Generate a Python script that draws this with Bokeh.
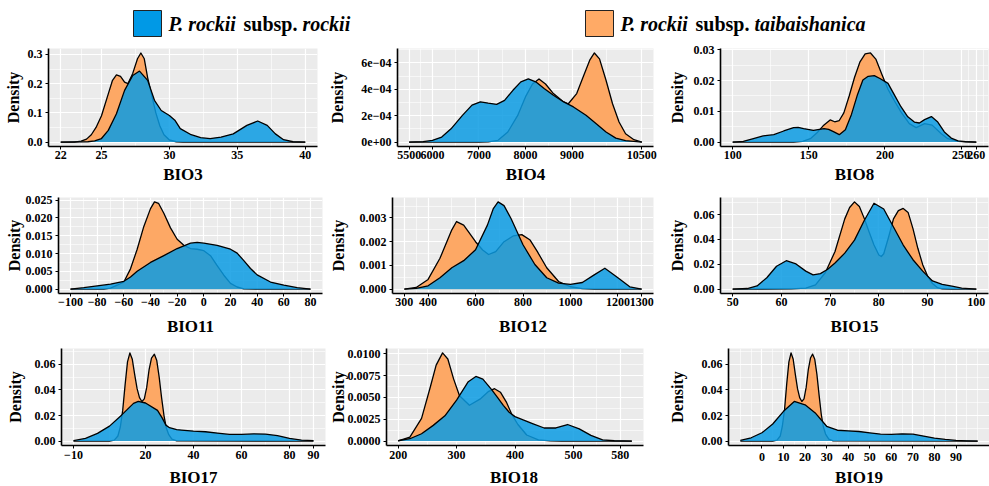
from bokeh.plotting import figure
from bokeh.layouts import column, row
from bokeh.models import Range1d, FixedTicker
from bokeh.core.properties import value
from bokeh.embed import file_html
from bokeh.resources import INLINE

# ------------------------------------------------------------------ data
GROUPS = ["P. rockii subsp. rockii", "P. rockii subsp. taibaishanica"]

BIO3_X_ROCKII = [22, 24, 24.5, 25, 25.5, 26.1, 26.7, 27.3, 27.8, 28.4, 28.9, 29.4, 30.0, 30.4, 30.8, 31.6, 32.3, 33.0, 33.8, 34.7, 35.7, 36.5, 37.2, 37.8, 38.4, 39.1, 40]
BIO3_Y_ROCKII = [0, 0.001, 0.004, 0.012, 0.04, 0.097, 0.177, 0.228, 0.243, 0.211, 0.143, 0.108, 0.091, 0.075, 0.046, 0.025, 0.015, 0.012, 0.017, 0.028, 0.057, 0.072, 0.057, 0.028, 0.008, 0.001, 0]
BIO3_X_TAIBAI = [22, 23.0, 23.5, 23.9, 24.25, 24.6, 25.0, 25.5, 25.8, 26.1, 26.4, 26.7, 26.95, 27.3, 27.65, 27.9, 28.15, 28.4, 28.7, 29.0, 29.3, 29.6, 30.0, 30.5, 31, 40]
BIO3_Y_TAIBAI = [0, 0.0, 0.003, 0.01, 0.025, 0.05, 0.09, 0.165, 0.21, 0.23, 0.225, 0.205, 0.2, 0.235, 0.285, 0.305, 0.285, 0.22, 0.16, 0.10, 0.055, 0.025, 0.007, 0.001, 0, 0]
BIO3_XTICKS = [22, 25, 30, 35, 40]
BIO3_XLABELS = ["22", "25", "30", "35", "40"]
BIO3_YTICKS = [0, 0.1, 0.2, 0.3]
BIO3_YLABELS = ["0.0", "0.1", "0.2", "0.3"]

BIO4_X_ROCKII = [5500, 5800, 6000, 6200, 6400, 6640, 6850, 7030, 7200, 7380, 7550, 7730, 7900, 8060, 8220, 8400, 8600, 8820, 9030, 9300, 9520, 9730, 9940, 10150, 10500]
BIO4_Y_ROCKII = [0, 0.03e-4, 0.13e-4, 0.38e-4, 1.0e-4, 2.0e-4, 2.8e-4, 3.05e-4, 2.95e-4, 2.86e-4, 3.16e-4, 3.92e-4, 4.56e-4, 4.78e-4, 4.56e-4, 4.05e-4, 3.54e-4, 3.04e-4, 2.66e-4, 2.03e-4, 1.39e-4, 0.76e-4, 0.30e-4, 0.10e-4, 0]
BIO4_X_TAIBAI = [5500, 7000, 7200, 7410, 7620, 7830, 8010, 8150, 8290, 8430, 8600, 8820, 8920, 9100, 9240, 9380, 9480, 9590, 9730, 9870, 10010, 10150, 10330, 10500]
BIO4_Y_TAIBAI = [0, 0, 0.02e-4, 0.13e-4, 0.76e-4, 2.0e-4, 3.5e-4, 4.4e-4, 4.78e-4, 4.4e-4, 3.67e-4, 3.04e-4, 2.9e-4, 3.67e-4, 4.94e-4, 6.2e-4, 6.75e-4, 6.3e-4, 4.68e-4, 2.9e-4, 1.52e-4, 0.63e-4, 0.18e-4, 0]
BIO4_XTICKS = [5500, 6000, 7000, 8000, 9000, 10500]
BIO4_XLABELS = ["5500", "6000", "7000", "8000", "9000", "10500"]
BIO4_YTICKS = [0, 2e-4, 4e-4, 6e-4]
BIO4_YLABELS = ["0e+00", "2e\u221204", "4e\u221204", "6e\u221204"]

BIO8_X_ROCKII = [100, 107, 113.6, 120, 127, 133.5, 140, 143, 146.6, 153, 160, 163, 166.5, 170, 174, 178, 182, 185.5, 189, 193, 197, 202, 206, 210.5, 215, 219.3, 222.6, 226, 230.5, 234.7, 239, 243.5, 248, 253, 260]
BIO8_Y_ROCKII = [0, 0.0002, 0.0011, 0.002, 0.0024, 0.0036, 0.0047, 0.0048, 0.0044, 0.0038, 0.0044, 0.0041, 0.0033, 0.0024, 0.004, 0.009, 0.0155, 0.0202, 0.0214, 0.0216, 0.0206, 0.0191, 0.0155, 0.0115, 0.0082, 0.0065, 0.0062, 0.0073, 0.0083, 0.0065, 0.0033, 0.0013, 0.0004, 0.0001, 0]
BIO8_X_TAIBAI = [100, 140, 146, 151, 155.4, 159.8, 164, 167, 170, 173, 176.5, 180, 183.5, 187, 190.5, 194, 198, 202, 206, 210.5, 216, 220.5, 226, 231, 237, 241.3, 248, 260]
BIO8_Y_TAIBAI = [0, 0, 0.0002, 0.0011, 0.003, 0.0055, 0.0072, 0.0066, 0.007, 0.0095, 0.015, 0.021, 0.026, 0.0287, 0.029, 0.027, 0.022, 0.0172, 0.0136, 0.0098, 0.006, 0.0047, 0.006, 0.0055, 0.0027, 0.0011, 0.0002, 0]
BIO8_XTICKS = [100, 150, 200, 250, 260]
BIO8_XLABELS = ["100", "150", "200", "250", "260"]
BIO8_YTICKS = [0, 0.01, 0.02, 0.03]
BIO8_YLABELS = ["0.00", "0.01", "0.02", "0.03"]

BIO11_X_ROCKII = [-100, -90, -80, -70, -60, -55, -50, -40, -30, -20, -10, -5, 0, 10, 20, 25, 30, 35, 40, 50, 60, 70, 80]
BIO11_Y_ROCKII = [0, 0.0004, 0.0009, 0.0014, 0.0022, 0.0034, 0.005, 0.0075, 0.0094, 0.0114, 0.0129, 0.0131, 0.0129, 0.0123, 0.0112, 0.0101, 0.008, 0.0058, 0.004, 0.002, 0.0011, 0.0004, 0]
BIO11_X_TAIBAI = [-100, -75, -70, -65, -60, -55, -50, -45, -40, -37, -34, -30, -25, -20, -15, -10, -5, 0, 5, 10, 15, 20, 25, 30, 40, 80]
BIO11_Y_TAIBAI = [0, 0, 0.0003, 0.0011, 0.002, 0.0057, 0.0112, 0.0176, 0.0226, 0.0245, 0.0241, 0.0213, 0.0172, 0.014, 0.0123, 0.0114, 0.0112, 0.0108, 0.0094, 0.0066, 0.0039, 0.0016, 0.0006, 0.0001, 0, 0]
BIO11_XTICKS = [-100, -80, -60, -40, -20, 0, 20, 40, 60, 80]
BIO11_XLABELS = ["\u2212100", "\u221280", "\u221260", "\u221240", "\u221220", "0", "20", "40", "60", "80"]
BIO11_YTICKS = [0, 0.005, 0.010, 0.015, 0.020, 0.025]
BIO11_YLABELS = ["0.000", "0.005", "0.010", "0.015", "0.020", "0.025"]

BIO12_X_ROCKII = [300, 350, 400, 450, 500, 550, 600, 650, 675, 695, 720, 750, 800, 850, 900, 950, 1000, 1050, 1100, 1145, 1200, 1250, 1300]
BIO12_Y_ROCKII = [0, 0.00003, 0.00014, 0.00048, 0.0009, 0.0012, 0.00166, 0.0027, 0.0034, 0.00368, 0.00352, 0.00297, 0.00187, 0.00104, 0.00048, 0.00025, 0.0002, 0.00028, 0.0006, 0.00088, 0.00048, 0.0001, 0]
BIO12_X_TAIBAI = [300, 350, 400, 450, 500, 520, 550, 600, 630, 655, 685, 720, 760, 795, 830, 860, 900, 950, 1000, 1050, 1100, 1300]
BIO12_Y_TAIBAI = [0, 0.00007, 0.00041, 0.0013, 0.0025, 0.00285, 0.0027, 0.002, 0.00165, 0.00146, 0.00158, 0.002, 0.00225, 0.0023, 0.00207, 0.00159, 0.0009, 0.00032, 0.0001, 0.00002, 0, 0]
BIO12_XTICKS = [300, 400, 600, 800, 1000, 1200, 1300]
BIO12_XLABELS = ["300", "400", "600", "800", "1000", "1200", "1300"]
BIO12_YTICKS = [0, 0.001, 0.002, 0.003]
BIO12_YLABELS = ["0.000", "0.001", "0.002", "0.003"]

BIO15_X_ROCKII = [50, 53, 55, 57, 59, 61, 63, 65, 66.5, 68, 69.5, 71, 73, 75, 77, 79, 81, 83, 85, 87, 89, 91, 93, 95, 97, 100]
BIO15_Y_ROCKII = [0, 0.0005, 0.0026, 0.0092, 0.0184, 0.0229, 0.0203, 0.0145, 0.0115, 0.0125, 0.016, 0.021, 0.029, 0.0395, 0.0553, 0.0692, 0.0645, 0.05, 0.0355, 0.0237, 0.0145, 0.0066, 0.0039, 0.0024, 0.0008, 0]
BIO15_X_TAIBAI = [50, 62, 65, 67, 69, 71, 73, 74, 75, 76, 77, 78, 79, 80, 80.5, 81, 82, 83, 84, 85, 86, 87, 88, 89, 90, 91, 92, 93, 95, 100]
BIO15_Y_TAIBAI = [0, 0.0002, 0.0008, 0.0034, 0.0132, 0.0303, 0.0566, 0.0658, 0.0703, 0.0666, 0.057, 0.046, 0.0355, 0.0275, 0.0263, 0.0285, 0.042, 0.0566, 0.0632, 0.065, 0.0618, 0.0487, 0.0329, 0.0197, 0.0105, 0.0045, 0.0013, 0.0003, 0, 0]
BIO15_XTICKS = [50, 60, 70, 80, 90, 100]
BIO15_XLABELS = ["50", "60", "70", "80", "90", "100"]
BIO15_YTICKS = [0, 0.02, 0.04, 0.06]
BIO15_YLABELS = ["0.00", "0.02", "0.04", "0.06"]

BIO17_X_ROCKII = [-10, -5, 0, 5, 10, 15, 17, 20, 25, 27, 28.5, 30, 33, 35, 40, 45, 50, 55, 60, 65, 70, 75, 80, 85, 90]
BIO17_Y_ROCKII = [0.0003, 0.0021, 0.006, 0.0117, 0.0203, 0.0295, 0.031, 0.0298, 0.024, 0.018, 0.0125, 0.0105, 0.009, 0.0086, 0.0078, 0.0073, 0.0063, 0.0052, 0.0052, 0.0057, 0.0055, 0.0042, 0.0021, 0.0008, 0.0003]
BIO17_X_TAIBAI = [-10, 5, 7, 8.5, 9.5, 10.5, 11.5, 12.5, 13.5, 14.5, 15.5, 16.5, 17.5, 18.5, 19.5, 20.5, 21.5, 22.5, 23.7, 24.7, 25.7, 26.7, 27.7, 28.7, 29.7, 31, 33, 90]
BIO17_Y_TAIBAI = [0, 0, 0.0008, 0.004, 0.011, 0.024, 0.044, 0.062, 0.069, 0.064, 0.052, 0.041, 0.034, 0.031, 0.033, 0.042, 0.056, 0.065, 0.068, 0.063, 0.05, 0.034, 0.02, 0.01, 0.005, 0.0015, 0.0002, 0]
BIO17_XTICKS = [-10, 20, 40, 60, 80, 90]
BIO17_XLABELS = ["\u221210", "20", "40", "60", "80", "90"]
BIO17_YTICKS = [0, 0.02, 0.04, 0.06]
BIO17_YLABELS = ["0.00", "0.02", "0.04", "0.06"]

BIO18_X_ROCKII = [200, 220, 240, 260, 280, 300, 320, 333, 345, 360, 370, 380, 390, 400, 415, 430, 450, 470, 490, 510, 530, 550, 570, 600]
BIO18_Y_ROCKII = [0.00004, 0.00027, 0.00084, 0.0018, 0.0029, 0.0047, 0.0068, 0.0074, 0.0071, 0.0059, 0.005, 0.0041, 0.0033, 0.0028, 0.0024, 0.002, 0.0015, 0.0015, 0.0019, 0.0014, 0.00065, 0.00015, 0.00004, 0]
BIO18_X_TAIBAI = [200, 220, 240, 255, 265, 276, 285, 295, 305, 322, 340, 355, 365, 375, 385, 395, 405, 420, 440, 460, 480, 600]
BIO18_Y_TAIBAI = [0.00003, 0.00046, 0.0026, 0.0062, 0.0087, 0.0101, 0.0094, 0.0071, 0.0052, 0.0041, 0.0048, 0.0057, 0.006, 0.0056, 0.0045, 0.003, 0.0019, 0.0007, 0.00015, 0.00003, 0, 0]
BIO18_XTICKS = [200, 300, 400, 500, 580]
BIO18_XLABELS = ["200", "300", "400", "500", "580"]
BIO18_YTICKS = [0, 0.0025, 0.005, 0.0075, 0.01]
BIO18_YLABELS = ["0.0000", "0.0025", "0.0050", "0.0075", "0.0100"]

BIO19_X_ROCKII = [-10, -5, 0, 5, 10, 15, 20, 25, 30, 35, 40, 45, 50, 55, 60, 65, 70, 75, 80, 85, 90, 95, 100]
BIO19_Y_ROCKII = [0.0005, 0.0026, 0.0065, 0.0134, 0.0233, 0.031, 0.0284, 0.0215, 0.0116, 0.0085, 0.008, 0.0075, 0.0065, 0.0054, 0.0052, 0.0057, 0.0054, 0.0039, 0.0023, 0.0013, 0.0005, 0.0002, 0]
BIO19_X_TAIBAI = [-10, 5, 7, 8.5, 9.5, 10.5, 11.5, 12.5, 13.5, 14.5, 15.5, 16.5, 17.5, 18.5, 19.5, 20.5, 21.5, 22.5, 23.5, 24.5, 25.5, 26.5, 27.5, 28.5, 29.5, 31, 33, 100]
BIO19_Y_TAIBAI = [0, 0, 0.0008, 0.004, 0.012, 0.025, 0.045, 0.062, 0.069, 0.064, 0.052, 0.041, 0.034, 0.031, 0.033, 0.042, 0.056, 0.065, 0.068, 0.064, 0.052, 0.036, 0.021, 0.011, 0.0055, 0.0015, 0.0002, 0]
BIO19_XTICKS = [0, 10, 20, 30, 40, 50, 60, 70, 80, 90]
BIO19_XLABELS = ["0", "10", "20", "30", "40", "50", "60", "70", "80", "90"]
BIO19_YTICKS = [0, 0.02, 0.04, 0.06]
BIO19_YLABELS = ["0.00", "0.02", "0.04", "0.06"]

# ------------------------------------------------------------------ style
BLUE = "#0A9BE3"
ORANGE = "#FDA865"
PANEL_BG = "#EBEBEB"
FONT = "Liberation Serif"
TICK_FS = "12px"


def minor_ticks(ticks, lo, hi):
    ext = list(ticks)
    if len(ticks) > 1:
        ext = [ticks[0] - (ticks[1] - ticks[0])] + ext + [ticks[-1] + (ticks[-1] - ticks[-2])]
    mids = [(a + b) / 2 for a, b in zip(ext[:-1], ext[1:])]
    out = [m for m in mids + ext if lo <= m <= hi and m not in ticks]
    return sorted(out)


def panel(name, xr, yr, xo, yo, xt, xl, yt, yl, w, h, ml, mr, mt, mb,
          ylab_sd, xtick_sd, title_sd, with_title=True):
    x0 = min(xr[0], xo[0])
    x1 = max(xr[-1], xo[-1])
    dx = x1 - x0
    ymax = max(max(yr), max(yo))
    xlo, xhi = x0 - 0.05 * dx, x1 + 0.05 * dx
    ylo, yhi = -0.05 * ymax, 1.05 * ymax
    p = figure(width=w, height=h, output_backend="svg", toolbar_location=None,
               x_range=Range1d(xlo, xhi), y_range=Range1d(ylo, yhi),
               min_border_left=ml, min_border_right=mr,
               min_border_top=mt, min_border_bottom=mb)
    p.background_fill_color = PANEL_BG
    p.border_fill_color = "white"
    p.outline_line_color = None

    p.varea(x=xo, y1=0, y2=yo, fill_color=ORANGE, fill_alpha=1.0)
    p.line(xo, yo, line_color="black", line_width=1.3, line_join="round")
    p.varea(x=xr, y1=0, y2=yr, fill_color=BLUE, fill_alpha=0.85)
    p.line(xr, yr, line_color="black", line_width=1.3, line_join="round")

    p.xaxis.ticker = FixedTicker(ticks=xt, minor_ticks=minor_ticks(xt, xlo, xhi))
    p.yaxis.ticker = FixedTicker(ticks=yt, minor_ticks=minor_ticks(yt, ylo, yhi))
    p.xaxis.major_label_overrides = {t: l for t, l in zip(xt, xl)}
    p.yaxis.major_label_overrides = {t: l for t, l in zip(yt, yl)}

    for ax in (p.xaxis[0], p.yaxis[0]):
        ax.axis_line_color = "black"
        ax.axis_line_width = 1.6
        ax.major_tick_line_color = "black"
        ax.major_tick_line_width = 1
        ax.major_tick_out = 3
        ax.major_tick_in = 0
        ax.minor_tick_line_color = None
        ax.major_label_text_font = FONT
        ax.major_label_text_font_style = "bold"
        ax.major_label_text_font_size = TICK_FS
        ax.major_label_text_color = "black"
        ax.axis_label_text_font = FONT
        ax.axis_label_text_font_style = "bold"
        ax.axis_label_text_color = "black"

    p.xaxis.major_label_standoff = xtick_sd
    p.yaxis.major_label_standoff = 2
    if with_title:
        p.xaxis.axis_label = name
        p.xaxis.axis_label_text_font_size = "17px"
        p.xaxis.axis_label_standoff = title_sd
    p.yaxis.axis_label = "Density"
    p.yaxis.axis_label_text_font_size = "16px"
    p.yaxis.axis_label_standoff = ylab_sd

    for g in (p.xgrid[0], p.ygrid[0]):
        g.grid_line_color = "white"
        g.grid_line_width = 1.2
        g.minor_grid_line_color = "white"
        g.minor_grid_line_width = 0.6
    return p


# column cells: 0-326, 326-662, 662-989
# rows: 0-40 legend, 40-188, 188-340, 340-469 (+ 469-486 title strip for the last row)
# (a row aligns its plots' top/bottom borders, so they are shared per row)
W1, W2, W3 = 326, 336, 327
H0, H1, H2, H3, HS = 40, 148, 152, 129, 17
T1, B1 = 8, 42
T2, B2 = 9, 47
T3, B3 = 8, 24

p1 = panel("BIO3", BIO3_X_ROCKII, BIO3_Y_ROCKII, BIO3_X_TAIBAI, BIO3_Y_TAIBAI,
           BIO3_XTICKS, BIO3_XLABELS, BIO3_YTICKS, BIO3_YLABELS,
           W1, H1, 48, 9, T1, B1, 3, 0, 3)
p2 = panel("BIO4", BIO4_X_ROCKII, BIO4_Y_ROCKII, BIO4_X_TAIBAI, BIO4_Y_TAIBAI,
           BIO4_XTICKS, BIO4_XLABELS, BIO4_YTICKS, BIO4_YLABELS,
           W2, H1, 68, 9, T1, B1, 12, 0, 3)
p3 = panel("BIO8", BIO8_X_ROCKII, BIO8_Y_ROCKII, BIO8_X_TAIBAI, BIO8_Y_TAIBAI,
           BIO8_XTICKS, BIO8_XLABELS, BIO8_YTICKS, BIO8_YLABELS,
           W3, H1, 58, 1, T1, B1, 5, 0, 3)
p4 = panel("BIO11", BIO11_X_ROCKII, BIO11_Y_ROCKII, BIO11_X_TAIBAI, BIO11_Y_TAIBAI,
           BIO11_XTICKS, BIO11_XLABELS, BIO11_YTICKS, BIO11_YLABELS,
           W1, H2, 58, 4, T2, B2, 0, 0, 8)
p5 = panel("BIO12", BIO12_X_ROCKII, BIO12_Y_ROCKII, BIO12_X_TAIBAI, BIO12_Y_TAIBAI,
           BIO12_XTICKS, BIO12_XLABELS, BIO12_YTICKS, BIO12_YLABELS,
           W2, H2, 65, 9, T2, B2, 10, 0, 8)
p6 = panel("BIO15", BIO15_X_ROCKII, BIO15_Y_ROCKII, BIO15_X_TAIBAI, BIO15_Y_TAIBAI,
           BIO15_XTICKS, BIO15_XLABELS, BIO15_YTICKS, BIO15_YLABELS,
           W3, H2, 58, 1, T2, B2, 5, 0, 8)

ROW3 = [(61, 1), (58, 19), (66, 0)]   # left / right borders of the last row
p7 = panel("BIO17", BIO17_X_ROCKII, BIO17_Y_ROCKII, BIO17_X_TAIBAI, BIO17_Y_TAIBAI,
           BIO17_XTICKS, BIO17_XLABELS, BIO17_YTICKS, BIO17_YLABELS,
           W1, H3, *ROW3[0], T3, B3, 8, 1, 0, with_title=False)
p8 = panel("BIO18", BIO18_X_ROCKII, BIO18_Y_ROCKII, BIO18_X_TAIBAI, BIO18_Y_TAIBAI,
           BIO18_XTICKS, BIO18_XLABELS, BIO18_YTICKS, BIO18_YLABELS,
           W2, H3, *ROW3[1], T3, B3, -2, 1, 0, with_title=False)
p9 = panel("BIO19", BIO19_X_ROCKII, BIO19_Y_ROCKII, BIO19_X_TAIBAI, BIO19_Y_TAIBAI,
           BIO19_XTICKS, BIO19_XLABELS, BIO19_YTICKS, BIO19_YLABELS,
           W3, H3, *ROW3[2], T3, B3, 13, 3, 0, with_title=False)

# title strip under the last row (axis titles BIO17 / BIO18 / BIO19)
WT = W1 + W2 + W3
strip = figure(width=WT, height=HS, output_backend="svg", toolbar_location=None,
               x_range=Range1d(0, WT), y_range=Range1d(HS, 0), min_border=0)
strip.axis.visible = False
strip.grid.visible = False
strip.outline_line_color = None
strip.background_fill_color = "white"
strip.border_fill_color = "white"
cells = [(0, W1), (W1, W2), (W1 + W2, W3)]
centers = [c0 + b[0] + (cw - b[0] - b[1]) / 2 for (c0, cw), b in zip(cells, ROW3)]
strip.text(x=centers, y=[7.5] * 3, text=["BIO17", "BIO18", "BIO19"],
           text_font=value(FONT), text_font_style="bold", text_font_size="17px",
           text_align="center", text_baseline="middle", text_color="black")

# ------------------------------------------------------------------ legend
leg = figure(width=WT, height=H0, output_backend="svg", toolbar_location=None,
             x_range=Range1d(0, WT), y_range=Range1d(H0, 0), min_border=0)
leg.axis.visible = False
leg.grid.visible = False
leg.outline_line_color = None
leg.background_fill_color = "white"
leg.border_fill_color = "white"

FS = 20  # legend font size (px)
SPACE = 0.25 * FS
W_PROCKII = 3.5 * FS       # "P. rockii" bold italic
W_SUBSP = 2.696 * FS       # "subsp." bold


def legend_entry(x_box, color, epithet):
    leg.quad(left=[x_box], right=[x_box + 28], top=[10], bottom=[36],
             fill_color=color, line_color="#222222", line_width=1)
    xt = x_box + 35
    leg.text(x=[xt], y=[23], text=["P. rockii"], text_font=value(FONT),
             text_font_style="bold italic", text_font_size=f"{FS}px",
             text_baseline="middle", text_color="black")
    xs = xt + W_PROCKII + SPACE
    leg.text(x=[xs], y=[23], text=["subsp."], text_font=value(FONT),
             text_font_style="bold", text_font_size=f"{FS}px",
             text_baseline="middle", text_color="black")
    xe = xs + W_SUBSP + SPACE
    leg.text(x=[xe], y=[23], text=[epithet], text_font=value(FONT),
             text_font_style="bold italic", text_font_size=f"{FS}px",
             text_baseline="middle", text_color="black")


legend_entry(133, "#0099E6", GROUPS[0].split()[-1])
legend_entry(585, "#FFAA66", GROUPS[1].split()[-1])

layout = column(leg, row(p1, p2, p3), row(p4, p5, p6), row(p7, p8, p9), strip)

open("out.html", "w").write(file_html(layout, INLINE))
